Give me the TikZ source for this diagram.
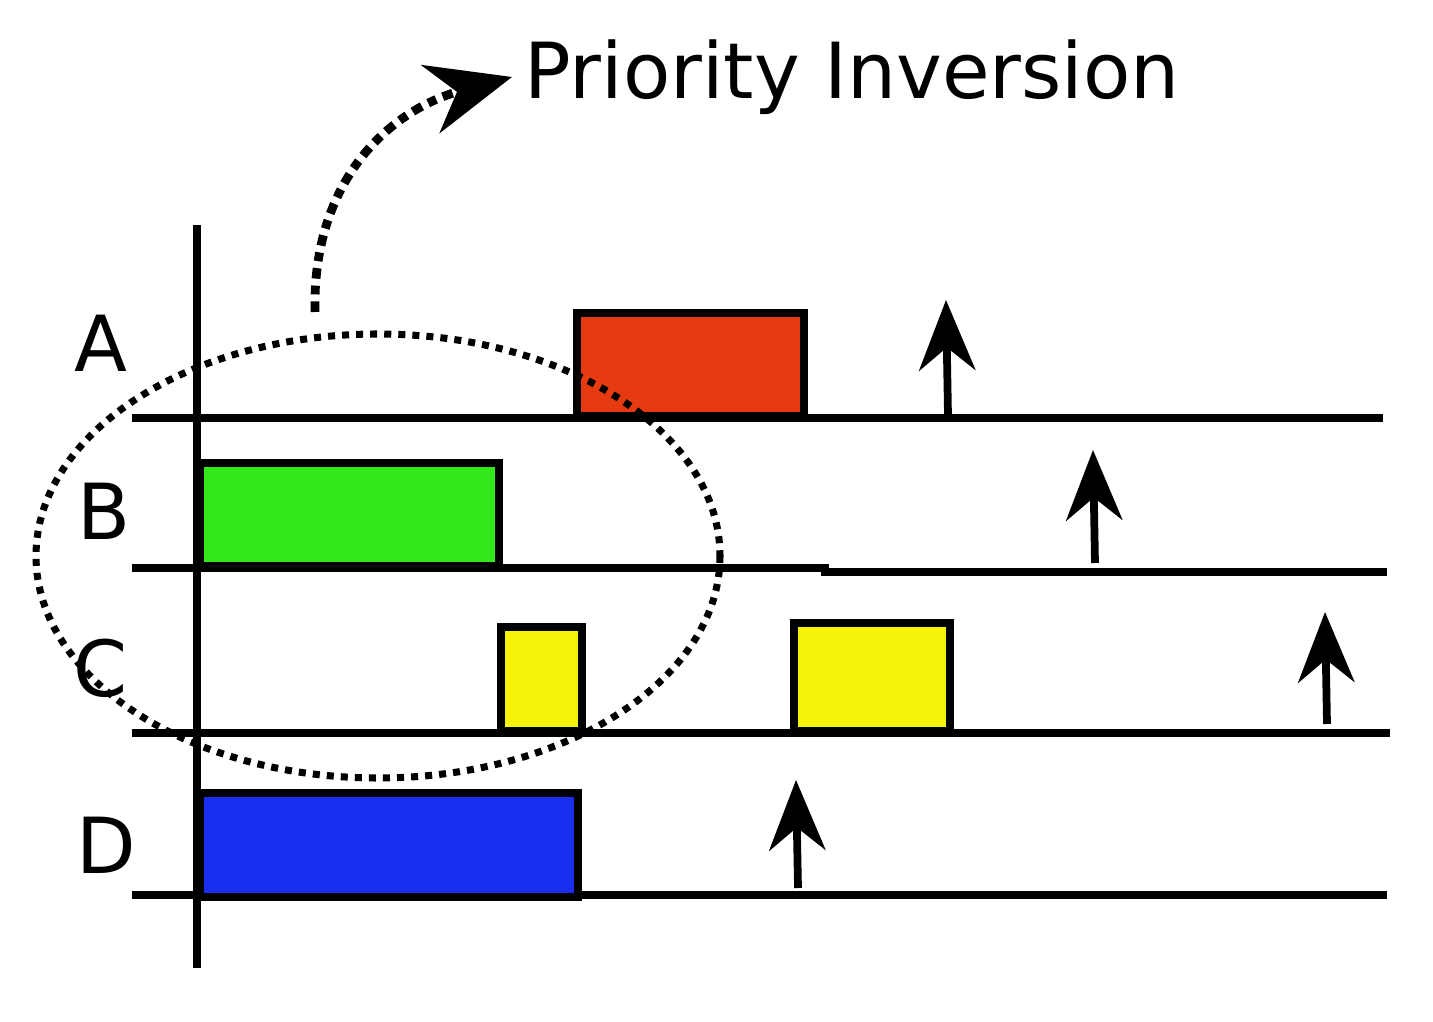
\documentclass[tikz,border=0pt]{standalone}
\usepackage{fontspec}
\setmainfont{DejaVu Sans}
\usetikzlibrary{arrows.meta}
\definecolor{cred}{HTML}{E63A10}
\definecolor{cgreen}{HTML}{33E81A}
\definecolor{cyellow}{HTML}{F7F20A}
\definecolor{cblue}{HTML}{1A2EF0}
\begin{document}
\begin{tikzpicture}[x=0.01cm,y=-0.01cm,
  base/.style={line width=2.2pt},
  task/.style={draw,line width=2.2pt},
  evt/.style={line width=2.2pt,-{Stealth[length=20pt,width=16pt]}},
  lbl/.style={font=\fontsize{22}{26}\selectfont}]
\useasboundingbox (0,0) rectangle (1433,1022);
\draw[base] (197,225) -- (197,968);
\draw[base] (132,418) -- (1383,418);
\draw[base] (132,568) -- (825,568) -- (825,572) -- (1387,572);
\draw[base] (132,733) -- (1390,733);
\draw[base] (132,895) -- (1387,895);
\filldraw[task,fill=cred] (577,313) rectangle (804,416);
\filldraw[task,fill=cgreen] (200,463) rectangle (499,566);
\filldraw[task,fill=cyellow] (501,627) rectangle (582,731);
\filldraw[task,fill=cyellow] (794,623) rectangle (950,731);
\filldraw[task,fill=cblue] (200,793) rectangle (578,897);
\coordinate (a1) at (948,415); \coordinate (a2) at (946,300);
\coordinate (b1) at (1095,563); \coordinate (b2) at (1093,450);
\coordinate (c1) at (1327,724); \coordinate (c2) at (1325,612);
\coordinate (d1) at (798,888); \coordinate (d2) at (796,780);
\draw[evt] (a1) -- (a2);
\draw[evt] (b1) -- (b2);
\draw[evt] (c1) -- (c2);
\draw[evt] (d1) -- (d2);
\node[lbl] (A) at (101,343) {A};
\node[lbl] (B) at (104,511) {B};
\node[lbl] (C) at (101,668) {C};
\node[lbl] (D) at (106,845) {D};
\node[lbl,anchor=west] (T) at (512,77) {Priority Inversion};
\draw[line width=2pt,dotted] (378,556) ellipse [x radius=342, y radius=222];
\coordinate (s) at (315,312);
\draw[line width=2.5pt,dash dot,-{Stealth[length=24pt,width=20pt]}] (s) .. controls (312,180) and (390,110) .. (T.west);
\end{tikzpicture}
\end{document}
